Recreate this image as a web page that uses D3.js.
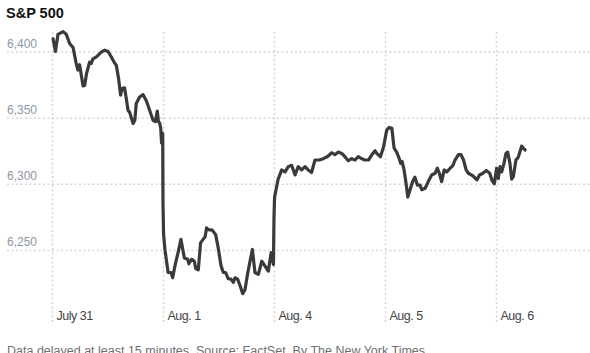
<!DOCTYPE html>
<html>
<head>
<meta charset="utf-8">
<script src="https://cdn.jsdelivr.net/npm/d3@7"></script>
<style>
  body { margin: 0; background: #fff; }
  svg { display: block; }
  .title { font-family: "Liberation Sans", Arial, sans-serif; font-weight: bold; font-size: 14.5px; fill: #111; }
  .note { font-family: "Liberation Sans", Arial, sans-serif; font-size: 12.5px; fill: #6f6f6f; }
</style>
</head>
<body>
<svg id="chart"></svg>
<script>
// trading days shown
const dayLabels = ["July 31", "Aug. 1", "Aug. 4", "Aug. 5", "Aug. 6"];
const yTicks = [6250, 6300, 6350, 6400];
const SESSION = 390; // minutes per session

// [minutes after open, index level]
const july31 = [[4,6409.5],[12,6400],[21,6413],[39,6415],[50,6413],[62,6406],[74,6403],[85,6391],[91,6386],
  [97,6390],[103,6382],[109,6374],[115,6374.5],[121,6383],[132,6392],[138,6391],[144,6394.5],[156,6396],
  [173,6399.5],[185,6401],[197,6400],[208,6396],[218,6392],[226,6389.5],[234,6379.5],[241,6367],[246,6372],
  [255,6372.5],[261,6364.5],[267,6355.6],[273,6354],[285,6345.6],[291,6348],[296,6360.7],[308,6365.6],
  [320,6367.4],[331,6363],[337,6359.4],[343,6355.6],[355,6348],[363,6347],[370,6355],[374,6347],[378,6346],
  [382,6342],[385,6331],[389,6338]];
const aug1 = [[0,6285],[2,6262],[7,6250],[18,6233],[28,6233],[34,6229],[42,6238],[54,6249],[63,6258],[75,6244],
  [87,6243],[91,6239.6],[101,6243],[110,6241.5],[115,6236],[124,6235],[132,6255.4],[141,6258],[148,6260],
  [153,6266.7],[159,6265.4],[173,6265],[185,6261.6],[194,6251.6],[204,6238],[212,6233],[220,6233],[229,6228.3],
  [239,6228],[247,6225.5],[253,6229],[262,6228],[271,6223],[280,6217],[288,6220],[298,6233],[314,6250.4],
  [323,6233],[335,6231.6],[347,6241.5],[358,6238],[370,6234],[380,6248],[388,6239]];
const aug4 = [[0,6275],[2,6290],[15,6304],[18,6305.5],[27,6310.5],[39,6309],[50,6313],[62,6314],[74,6306.7],
  [85,6313],[97,6310.5],[109,6313],[120,6310.5],[132,6308.6],[144,6318],[159,6318],[173,6319],[187,6320.5],
  [203,6323.5],[214,6322],[226,6324],[238,6323],[249,6320.5],[261,6317.5],[273,6319],[285,6318],[296,6320.5],
  [308,6319],[320,6318],[332,6318],[344,6322],[355,6325],[361,6323],[374,6320.5],[385,6328]];
const aug5 = [[6,6340.6],[15,6342.6],[24,6342],[32,6327],[41,6324],[50,6319],[55,6315.5],[60,6317],[67,6310.5],
  [74,6300.5],[80,6290],[88,6295.5],[97,6301.7],[105,6305],[114,6299],[123,6299],[129,6295.5],[141,6296.7],
  [152,6301.7],[164,6306.7],[176,6308],[184,6311.8],[191,6308],[199,6301.7],[208,6310.5],[217,6309],
  [229,6311.8],[239,6314],[246,6318],[258,6322],[267,6322],[276,6318],[285,6310.5],[293,6308],[309,6306],
  [323,6303],[332,6306.7],[344,6308],[356,6310],[368,6308],[376,6302.5],[384,6300]];
const aug6 = [[2,6311.8],[8,6304],[14,6313],[20,6309],[28,6315.5],[35,6323],[41,6324],[49,6315.5],[55,6303.5],
  [61,6305.5],[70,6318],[78,6320],[84,6324],[90,6328.5],[96,6327],[102,6325.6]];

const days = [july31, aug1, aug4, aug5, aug6];
const series = days.flatMap((pts, i) => pts.map(([m, v]) => ({ t: i * SESSION + m, v })));

const width = 590, height = 353;
const svg = d3.select('#chart').attr('width', width).attr('height', height);

const x = d3.scaleLinear().domain([0, 5 * SESSION]).range([52, 52 + 5 * 111]);
const y = d3.scaleLinear().domain([6250, 6400]).range([250, 51.5]);

svg.append('text').attr('class', 'title').attr('x', 6).attr('y', 18).text('S&P 500');

// horizontal grid + value labels
const yAxis = svg.append('g')
  .attr('transform', 'translate(7,0)')
  .call(d3.axisRight(y).tickValues(yTicks).tickFormat(d3.format(',')).tickSize(width - 7));
yAxis.select('.domain').remove();
yAxis.selectAll('line').attr('stroke', '#d6d6d6').attr('stroke-width', 1.5).attr('stroke-dasharray', '2,2.5');
yAxis.selectAll('text')
  .attr('x', 0).attr('dy', -4.5).attr('text-anchor', 'start')
  .style('font-family', '"Liberation Sans", Arial, sans-serif').style('font-size', '12px').attr('fill', '#8d97a3');

// vertical day grid + labels
const xAxis = svg.append('g')
  .attr('transform', 'translate(0,32)')
  .call(d3.axisBottom(x).tickValues(dayLabels.map((d, i) => i * SESSION)).tickFormat((d, i) => dayLabels[i]).tickSize(293));
xAxis.select('.domain').remove();
xAxis.selectAll('line').attr('stroke', '#d6d6d6').attr('stroke-width', 1.5).attr('stroke-dasharray', '2,2.5');
xAxis.selectAll('text')
  .attr('x', 4).attr('y', 288).attr('dy', 0).attr('text-anchor', 'start')
  .style('font-family', '"Liberation Sans", Arial, sans-serif')
  .style('font-size', '12.5px').style('letter-spacing', '-0.5px').attr('fill', '#444');

const line = d3.line().x(d => x(d.t)).y(d => y(d.v));
svg.append('path')
  .datum(series)
  .attr('d', line)
  .attr('fill', 'none')
  .attr('stroke', '#3a3a3a')
  .attr('stroke-width', 3.2)
  .attr('stroke-linejoin', 'round')
  .attr('stroke-linecap', 'round');

svg.append('text').attr('class', 'note').attr('x', 7).attr('y', 355)
  .text('Data delayed at least 15 minutes. Source: FactSet. By The New York Times');
</script>
</body>
</html>
